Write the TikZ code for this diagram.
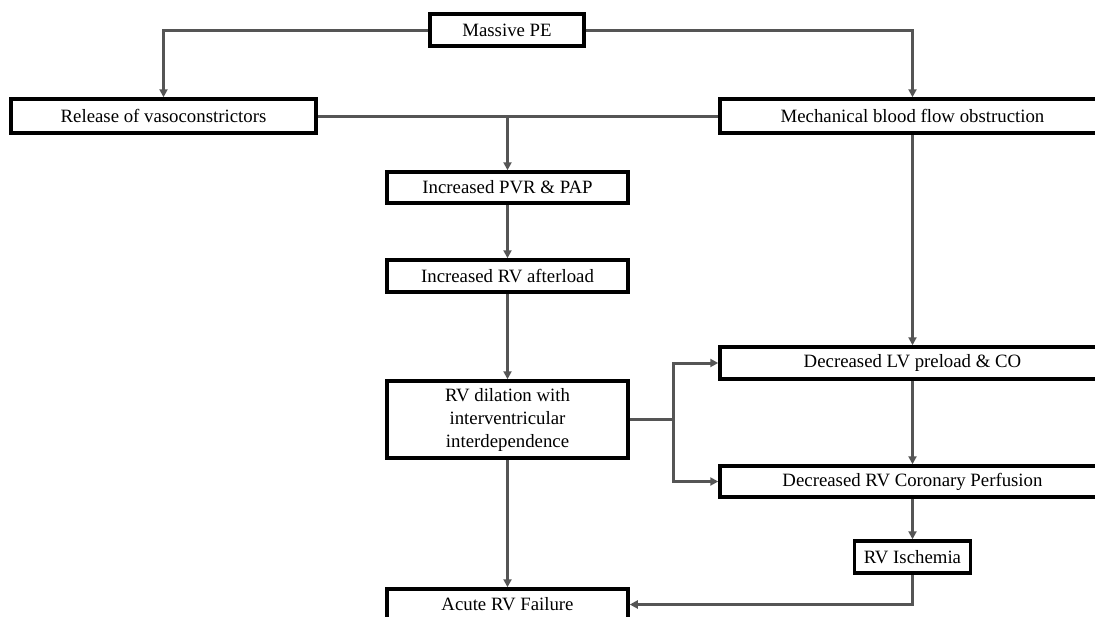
\documentclass[tikz,border=0pt]{standalone}
\usepackage{fontspec}
\setmainfont{Liberation Serif}
\usetikzlibrary{arrows.meta}
\definecolor{conngray}{HTML}{555555}
\begin{document}
\begin{tikzpicture}[x=1pt,y=-1pt,
  box/.style={draw=black, line width=3.5pt, fill=white, inner sep=0pt,
    align=center, font=\fontsize{18.8}{23}\selectfont},
  conn/.style={draw=conngray, line width=3pt},
  arr/.style={conn, -{Triangle[length=8pt,width=8pt]}}]
\useasboundingbox (0,0) rectangle (1095,616);
\fill[white] (0,0) rectangle (1095,616);
\clip (0,0) rectangle (1095,616);

\node[box, minimum width=154pt, minimum height=32pt] (pe) at (507,30) {Massive PE};
\node[box, minimum width=305pt, minimum height=34pt] (rel) at (163.5,116) {Release of vasoconstrictors};
\node[box, minimum width=385pt, minimum height=34pt] (mech) at (912.5,116) {Mechanical blood flow obstruction};
\node[box, minimum width=241pt, minimum height=31pt] (pvr) at (507.5,187.5) {Increased PVR \& PAP};
\node[box, minimum width=241pt, minimum height=32pt] (aft) at (507.5,276) {Increased RV afterload};
\node[box, minimum width=241pt, minimum height=77pt] (dil) at (507.5,419.5) {RV dilation with\\interventricular\\interdependence};
\node[box, minimum width=241pt, minimum height=31pt] (acute) at (507.5,604.5) {Acute RV Failure};
\node[box, minimum width=385pt, minimum height=32pt] (lv) at (912.5,363) {Decreased LV preload \& CO};
\node[box, minimum width=385pt, minimum height=31pt] (cor) at (912.5,481.5) {Decreased RV Coronary Perfusion};
\node[box, minimum width=116pt, minimum height=32pt] (isc) at (912.5,557) {RV Ischemia};

\coordinate (j1) at (507.5,116);
\coordinate (j2) at (673,419.5);

\draw[arr] (pe.west) -| (rel.north);
\draw[arr] (pe.east) -| (mech.north);
\draw[conn] (rel.east) -- (mech.west);
\draw[arr] (j1) -- (pvr.north);
\draw[arr] (pvr.south) -- (aft.north);
\draw[arr] (aft.south) -- (dil.north);
\draw[arr] (dil.south) -- (acute.north);
\draw[arr] (mech.south) -- (lv.north);
\draw[arr] (lv.south) -- (cor.north);
\draw[arr] (cor.south) -- (isc.north);
\draw[arr] (isc.south) |- (acute.east);
\draw[conn] (dil.east) -- (j2);
\draw[arr] (j2) |- (lv.west);
\draw[arr] (j2) |- (cor.west);
\end{tikzpicture}
\end{document}
